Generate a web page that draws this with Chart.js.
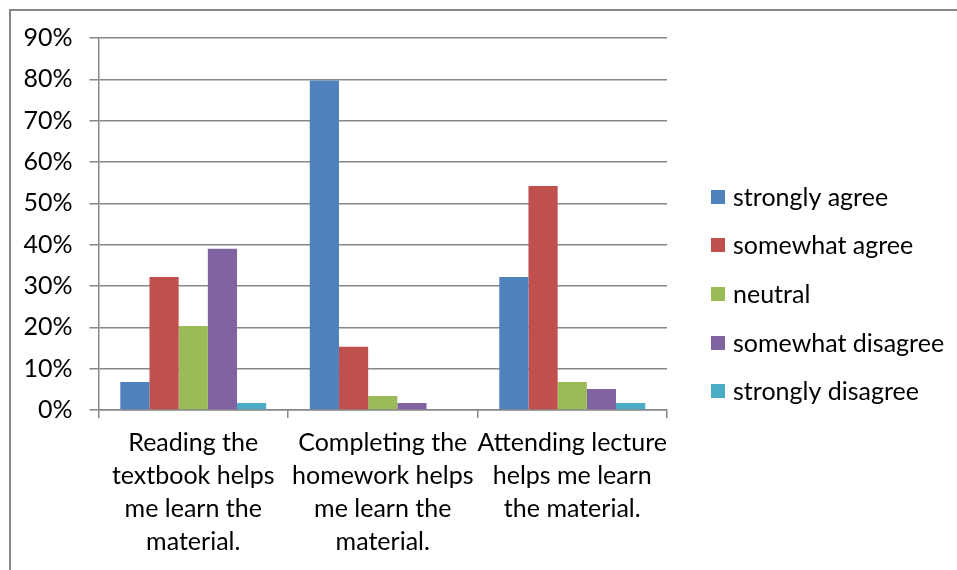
<!DOCTYPE html>
<html>
<head>
<meta charset="utf-8">
<script src="https://cdn.jsdelivr.net/npm/chart.js@4/dist/chart.umd.min.js"></script>
<style>
  html, body { margin: 0; padding: 0; background: #ffffff; }
  #wrap { width: 957px; height: 570px; position: relative; }
</style>
</head>
<body>
<div id="wrap"><canvas id="c" width="957" height="570"></canvas></div>
<script>
// Survey statements (multi-line category labels)
const categories = [
  ["Reading the", "textbook helps", "me learn the", "material."],
  ["Completing the", "homework helps", "me learn the", "material."],
  ["Attending lecture", "helps me learn", "the material."]
];

// Response shares, percent of respondents
const seriesNames = ["strongly agree", "somewhat agree", "neutral", "somewhat disagree", "strongly disagree"];
const stronglyAgree    = [6.8, 79.7, 32.2];
const somewhatAgree    = [32.2, 15.3, 54.2];
const neutral          = [20.3, 3.4, 6.8];
const somewhatDisagree = [39.0, 1.7, 5.1];
const stronglyDisagree = [1.7, 0.0, 1.7];

// Value axis ticks (percent)
const yTicks = [0, 10, 20, 30, 40, 50, 60, 70, 80, 90];

const seriesColors = ["#4F81BD", "#C0504D", "#9BBB59", "#8064A2", "#4BACC6"];
const seriesValues = [stronglyAgree, somewhatAgree, neutral, somewhatDisagree, stronglyDisagree];

const FONT_FAMILY = "Lato, 'Open Sans', sans-serif";
const FONT_SIZE = 25;
const TEXT_COLOR = "#000000";
const AXIS_GRAY = "#878787";

// Outer frame around the whole chart
const framePlugin = {
  id: "frame",
  beforeDraw(chart) {
    const ctx = chart.ctx;
    ctx.save();
    ctx.fillStyle = "#ffffff";
    ctx.fillRect(0, 0, chart.width, chart.height);
    ctx.strokeStyle = AXIS_GRAY;
    ctx.lineWidth = 2;
    ctx.strokeRect(10, 10, chart.width + 20, chart.height + 20);
    ctx.restore();
  }
};

// Legend column to the right of the plot
const sideLegendPlugin = {
  id: "sideLegend",
  afterDraw(chart) {
    const ctx = chart.ctx;
    const area = chart.chartArea;
    const boxX = area.right + 44;
    const box = 14;
    const textX = boxX + 22;
    const pitch = 48.7;
    const firstY = 196.5;
    ctx.save();
    ctx.font = FONT_SIZE + "px " + FONT_FAMILY;
    ctx.textBaseline = "middle";
    ctx.textAlign = "left";
    chart.data.datasets.forEach((ds, i) => {
      const cy = firstY + i * pitch;
      ctx.fillStyle = ds.backgroundColor;
      ctx.fillRect(boxX, Math.round(cy - box / 2), box, box);
      ctx.fillStyle = TEXT_COLOR;
      ctx.fillText(ds.label, textX, cy + 1);
    });
    ctx.restore();
  }
};

const datasets = seriesNames.map((name, i) => ({
  label: name,
  data: seriesValues[i],
  backgroundColor: seriesColors[i],
  borderWidth: 0,
  categoryPercentage: 0.77,
  barPercentage: 1.0
}));

new Chart(document.getElementById("c"), {
  type: "bar",
  data: { labels: categories, datasets: datasets },
  options: {
    responsive: false,
    animation: false,
    devicePixelRatio: 1,
    layout: { padding: { left: 0, top: 38, right: 290, bottom: 0 } },
    plugins: {
      legend: { display: false },
      tooltip: { enabled: false }
    },
    scales: {
      x: {
        offset: true,
        afterFit(scale) { scale.height = 160; },
        grid: {
          offset: true,
          drawOnChartArea: false,
          drawTicks: true,
          tickLength: 8,
          color: AXIS_GRAY,
          lineWidth: 1.5
        },
        border: { display: true, color: AXIS_GRAY, width: 1.5 },
        ticks: {
          color: TEXT_COLOR,
          padding: 9,
          maxRotation: 0,
          autoSkip: false,
          font: { family: FONT_FAMILY, size: FONT_SIZE, lineHeight: 32.7 / FONT_SIZE }
        }
      },
      y: {
        min: 0,
        max: 90,
        afterFit(scale) { scale.width = 98.5; },
        afterBuildTicks(scale) { scale.ticks = yTicks.map(v => ({ value: v })); },
        grid: {
          color: AXIS_GRAY,
          lineWidth: 1.5,
          drawTicks: true,
          tickLength: 9
        },
        border: { display: true, color: AXIS_GRAY, width: 1.5 },
        ticks: {
          color: TEXT_COLOR,
          padding: 17,
          callback: v => v + "%",
          font: { family: FONT_FAMILY, size: FONT_SIZE }
        }
      }
    }
  },
  plugins: [framePlugin, sideLegendPlugin]
});
</script>
</body>
</html>
